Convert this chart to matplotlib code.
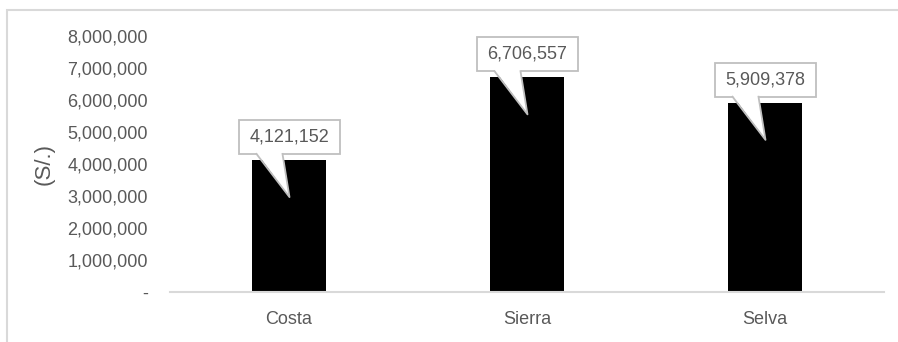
import matplotlib
matplotlib.use("Agg")
import matplotlib.pyplot as plt
from matplotlib.patches import Rectangle, Polygon
from matplotlib.lines import Line2D
from matplotlib.ticker import FuncFormatter
from matplotlib.transforms import Affine2D, ScaledTranslation

# Data
regions = ["Costa", "Sierra", "Selva"]
amounts = [4121152, 6706557, 5909378]
y_ticks = [0, 1000000, 2000000, 3000000, 4000000, 5000000, 6000000, 7000000, 8000000]

plt.rcParams["font.family"] = ["Liberation Sans", "DejaVu Sans"]
text_grey = "#595959"
line_grey = "#d9d9d9"
box_grey = "#bfbfbf"

fig = plt.figure(figsize=(8.98, 3.42), dpi=100)
ax = fig.add_axes([170 / 898, 1 - 292 / 342, (884 - 170) / 898, (292 - 36) / 342])

x = list(range(len(regions)))
ax.bar(x, amounts, width=0.315, color="black", zorder=2)

ax.set_xlim(-0.5, len(regions) - 0.5)
ax.set_ylim(0, 8000000)
ax.set_yticks(y_ticks)
ax.yaxis.set_major_formatter(FuncFormatter(lambda v, p: "-" if v == 0 else f"{v:,.0f}"))
ax.set_xticks(x)
ax.set_xticklabels(regions)
ax.tick_params(axis="y", length=0, pad=16, labelsize=13, labelcolor=text_grey)
ax.tick_params(axis="x", length=0, pad=13.5, labelsize=13, labelcolor=text_grey)

for side in ["top", "right", "left"]:
    ax.spines[side].set_visible(False)
ax.spines["bottom"].set_color(line_grey)
ax.spines["bottom"].set_linewidth(1.5)

ax.set_ylabel("(S/.)", fontsize=16, color=text_grey)
ax.yaxis.set_label_coords(-0.161, 0.5)

# callout labels, drawn in pixel offsets from the top of each bar
for i, v in enumerate(amounts):
    anchor = Affine2D() + ScaledTranslation(i, v, ax.transData)
    ax.add_patch(Rectangle((-50.5, 6), 101, 34, transform=anchor, fc="white",
                           ec=box_grey, lw=1.3, zorder=5, clip_on=False))
    ax.add_patch(Polygon([(-32.5, 7.5), (-6.5, 7.5), (0.5, -37)], closed=True,
                         transform=anchor, fc="white", ec="none", zorder=6,
                         clip_on=False))
    ax.add_line(Line2D([-32.5, 0.5, -6.5], [6.2, -37, 6.2], transform=anchor,
                       color=box_grey, lw=1.3, zorder=6, clip_on=False))
    ax.annotate(f"{v:,.0f}", xy=(i, v), xytext=(0, 16.8), textcoords="offset points",
                ha="center", va="center", fontsize=13, color=text_grey, zorder=7)

# outer chart border (cropped on right and bottom)
fig.add_artist(Rectangle((7 / 898, -0.1), 1.2, 1.1 - 10 / 342,
                         transform=fig.transFigure, fill=False,
                         ec=line_grey, lw=1.5))

fig.savefig("out.png", dpi=100)
